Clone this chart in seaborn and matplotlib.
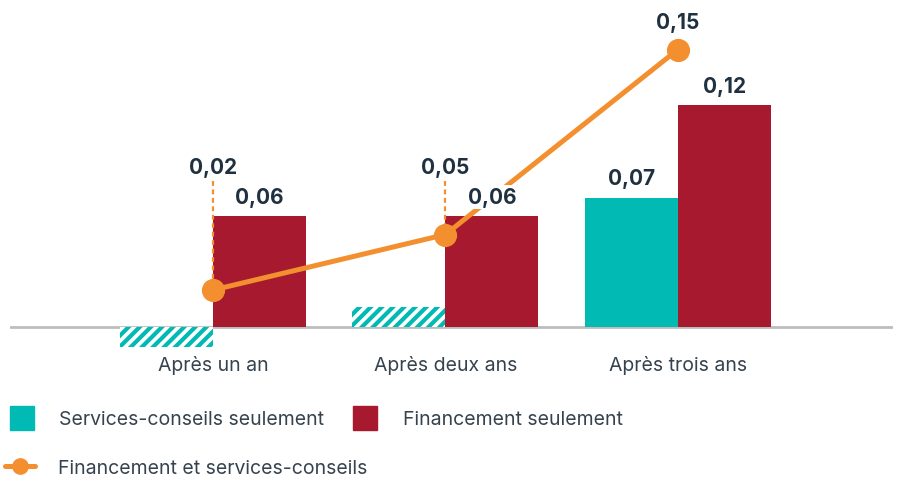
import pandas as pd
import seaborn as sns
import matplotlib.pyplot as plt
from matplotlib.patches import Patch
from matplotlib.lines import Line2D

# data
periods = ['Après un an', 'Après deux ans', 'Après trois ans']
services = [-0.011, 0.011, 0.07]
financement = [0.06, 0.06, 0.12]
both = [0.02, 0.05, 0.15]
services_labels = ['', '', '0,07']
financement_labels = ['0,06', '0,06', '0,12']
both_labels = ['0,02', '0,05', '0,15']
not_significant = [True, True, False]

teal = '#00BAB3'
red = '#A6192E'
orange = '#F38F2E'
navy = '#1F3040'
gray_text = '#36434F'

sns.set_theme(style='white')
plt.rcParams['font.family'] = ['Inter', 'DejaVu Sans']
plt.rcParams['hatch.linewidth'] = 3.0

df = pd.DataFrame({
    'periode': periods * 2,
    'valeur': services + financement,
    'groupe': ['Services-conseils seulement'] * 3 + ['Financement seulement'] * 3,
})

fig = plt.figure(figsize=(8.98, 4.81), dpi=100)
ax = fig.add_axes([0.0111, 0.268, 0.9833, 0.732])

sns.barplot(data=df, x='periode', y='valeur', hue='groupe', palette=[teal, red],
            width=0.8, saturation=1, legend=False, ax=ax, zorder=2, linewidth=0)

bars = ax.patches
serv_bars = bars[:3]
fin_bars = bars[3:6]
for b, ns in zip(serv_bars, not_significant):
    if ns:
        b.set_facecolor('white')
        b.set_edgecolor(teal)
        b.set_hatch('///')
        b.set_linewidth(0)

sns.pointplot(x=periods, y=both, color=orange, markers='o', markersize=14,
              linewidth=3.6, ax=ax, zorder=4)

ax.axhline(0, color='#BDBDBD', lw=2, zorder=1)

label_kw = dict(ha='center', va='center', fontsize=15, fontweight='bold', color=navy,
                textcoords='offset points', zorder=6,
                bbox=dict(boxstyle='square,pad=0.1', fc='white', ec='none'))

for b, v, lab in zip(serv_bars, services, services_labels):
    if lab:
        ax.annotate(lab, (b.get_x() + b.get_width() / 2, v), xytext=(0, 14), **label_kw)
for b, v, lab in zip(fin_bars, financement, financement_labels):
    ax.annotate(lab, (b.get_x() + b.get_width() / 2, v), xytext=(0, 14), **label_kw)

raised = 0.0865
for i, (v, lab) in enumerate(zip(both, both_labels)):
    if v < financement[i]:
        ax.text(i, raised, lab, ha='center', va='center', fontsize=15,
                fontweight='bold', color=navy, zorder=6)
        ax.plot([i, i], [raised - 0.0075, v], color=orange, lw=1.6,
                linestyle=(0, (2.2, 1.6)), zorder=3)
    else:
        ax.annotate(lab, (i, v), xytext=(0, 20), **label_kw)

ax.set_xlim(-0.873, 2.925)
ax.set_ylim(-0.013, 0.1773)
ax.set_yticks([])
ax.set_xlabel('')
ax.set_ylabel('')
sns.despine(ax=ax, left=True, bottom=True)
ax.tick_params(axis='x', length=0, pad=3, labelsize=14, labelcolor=gray_text)

leg1 = fig.legend(handles=[Patch(color=teal, label='Services-conseils seulement'),
                           Patch(color=red, label='Financement seulement')],
                  ncol=2, loc='center left', bbox_to_anchor=(10 / 898, 1 - 419 / 481),
                  frameon=False, fontsize=14, handlelength=1.24, handleheight=1.55,
                  handletextpad=1.29, columnspacing=1.5, borderpad=0, borderaxespad=0,
                  labelcolor=gray_text)
leg2 = fig.legend(handles=[Line2D([], [], color=orange, lw=3.6, marker='o', markersize=11,
                                  label='Financement et services-conseils')],
                  loc='center left', bbox_to_anchor=(5 / 898, 1 - 469 / 481),
                  frameon=False, fontsize=14, handlelength=1.55, handletextpad=1.19,
                  borderpad=0, borderaxespad=0, labelcolor=gray_text)

fig.savefig('out.png', dpi=100)
